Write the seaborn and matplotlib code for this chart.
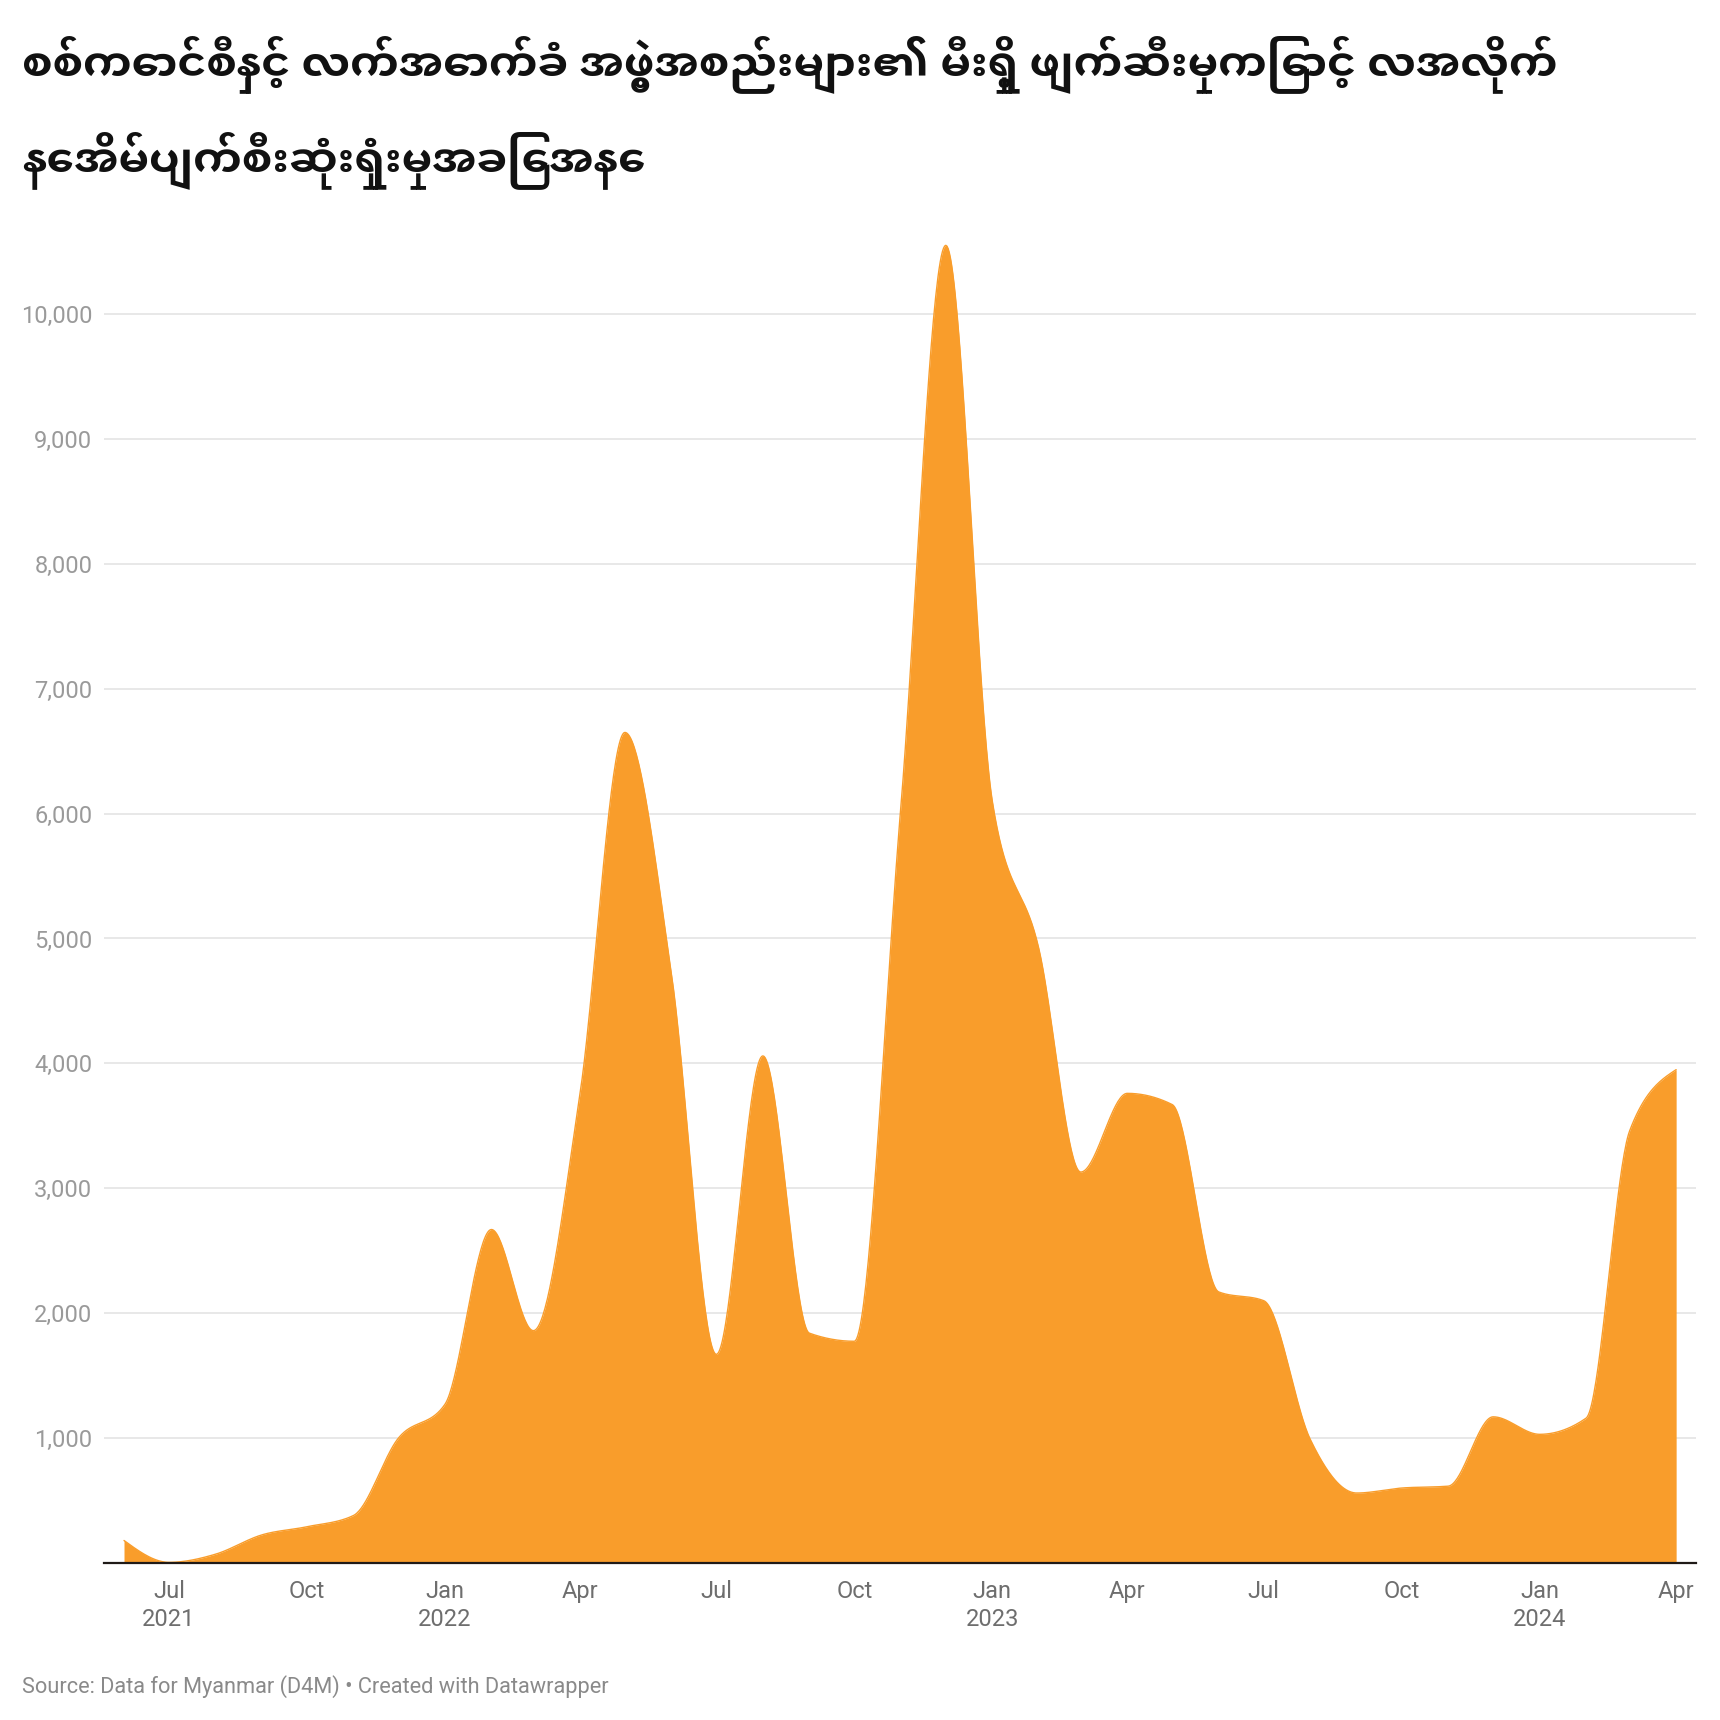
import numpy as np
import pandas as pd
import seaborn as sns
import matplotlib.pyplot as plt
import matplotlib.dates as mdates
from matplotlib import font_manager
from matplotlib.ft2font import FT2Font

# Monthly homes destroyed by arson (Jun 2021 - Apr 2024)
months = pd.date_range("2021-06-01", "2024-04-01", freq="MS")
homes_burned = [180, 5, 70, 225, 290, 380, 1000,
                1270, 2670, 1860, 3750, 6650, 4720, 1670, 4060, 1840, 1775, 6050, 10550,
                6100, 4920, 3130, 3760, 3670, 2170, 2100, 990, 560, 600, 615, 1170,
                1030, 1160, 3460, 3950]

title_line1 = "စစ်ကောင်စီနှင့် လက်အောက်ခံ အဖွဲ့အစည်းများ၏ မီးရှို့ ဖျက်ဆီးမှုကြောင့် လအလိုက်"
title_line2 = "နေအိမ်ပျက်စီးဆုံးရှုံးမှုအခြေအနေ"
source_note = "Source: Data for Myanmar (D4M) • Created with Datawrapper"

y_ticks = [1000, 2000, 3000, 4000, 5000, 6000, 7000, 8000, 9000, 10000]
x_tick_dates = pd.date_range("2021-07-01", "2024-04-01", freq="3MS")
x_tick_labels = ["Jul\n2021", "Oct", "Jan\n2022", "Apr", "Jul", "Oct",
                 "Jan\n2023", "Apr", "Jul", "Oct", "Jan\n2024", "Apr"]

AREA = "#f99d2b"


def find_myanmar_font():
    # look for any installed font that actually has Myanmar glyphs
    found = []
    for f in font_manager.fontManager.ttflist:
        try:
            if 0x1000 in FT2Font(f.fname).get_charmap():
                found.append(f)
        except Exception:
            pass
    if not found:
        return None
    found.sort(key=lambda f: -int(f.weight) if str(f.weight).isdigit() else 0)
    return found[0].name


def monotone_x(x, y, steps=40):
    # same smoothing as d3.curveMonotoneX, used only to draw the curve
    x = np.asarray(x, float)
    y = np.asarray(y, float)
    h = np.diff(x)
    s = np.diff(y) / h
    t = np.zeros_like(y)
    for i in range(1, len(y) - 1):
        p = (s[i - 1] * h[i] + s[i] * h[i - 1]) / (h[i - 1] + h[i])
        t[i] = (np.sign(s[i - 1]) + np.sign(s[i])) * min(abs(s[i - 1]), abs(s[i]), 0.5 * abs(p))
    t[0] = (3 * s[0] - t[1]) / 2
    t[-1] = (3 * s[-1] - t[-2]) / 2
    xs, ys = [], []
    u = np.linspace(0, 1, steps, endpoint=False)
    for i in range(len(h)):
        h00 = 2 * u**3 - 3 * u**2 + 1
        h10 = u**3 - 2 * u**2 + u
        h01 = -2 * u**3 + 3 * u**2
        h11 = u**3 - u**2
        xs.append(x[i] + u * h[i])
        ys.append(h00 * y[i] + h10 * h[i] * t[i] + h01 * y[i + 1] + h11 * h[i] * t[i + 1])
    xs.append([x[-1]])
    ys.append([y[-1]])
    return np.concatenate(xs), np.concatenate(ys)


sns.set_theme(style="white")
plt.rcParams["font.family"] = ["Roboto", "DejaVu Sans"]

mm_font = find_myanmar_font()
title_family = [mm_font, "DejaVu Sans"] if mm_font else ["DejaVu Sans"]

fig = plt.figure(figsize=(17.2, 17.2), dpi=100)
ax = fig.add_axes([0.0605, 0.0913, 0.9256, 0.7697])

xnum = mdates.date2num(months)
cx, cy = monotone_x(xnum, homes_burned)
ax.fill_between(cx, 0, cy, color=AREA, linewidth=0, zorder=2)
sns.lineplot(x=cx, y=cy, ax=ax, color=AREA, linewidth=1, zorder=2)

ax.set_xlim(xnum[0] - 13.3, xnum[-1] + 13.3)
ax.set_ylim(0, 10600)

ax.set_yticks(y_ticks)
ax.set_yticklabels([f"{v:,}" for v in y_ticks])
ax.set_xticks(mdates.date2num(x_tick_dates))
ax.set_xticklabels(x_tick_labels, linespacing=1.3)

ax.yaxis.grid(True, color="#e2e2e2", linewidth=1.1)
ax.set_axisbelow(True)
for side in ["top", "right", "left"]:
    ax.spines[side].set_visible(False)
ax.spines["bottom"].set_color("#1f1a17")
ax.spines["bottom"].set_linewidth(1.6)
ax.spines["bottom"].set_zorder(5)

ax.tick_params(axis="y", length=0, pad=8.5, labelsize=17, labelcolor="#9a9a9a")
ax.tick_params(axis="x", length=0, pad=12, labelsize=17, labelcolor="#6e6e6e")
ax.set_xlabel("")
ax.set_ylabel("")

fig.text(0.0128, 0.963, title_line1, fontsize=31.5, fontweight="bold",
         color="#111111", va="center", ha="left", family=title_family)
fig.text(0.0128, 0.907, title_line2, fontsize=31.5, fontweight="bold",
         color="#111111", va="center", ha="left", family=title_family)
fig.text(0.0128, 0.0196, source_note, fontsize=15.7, color="#8a8a8a",
         va="center", ha="left")

fig.savefig("out.png", dpi=100)
